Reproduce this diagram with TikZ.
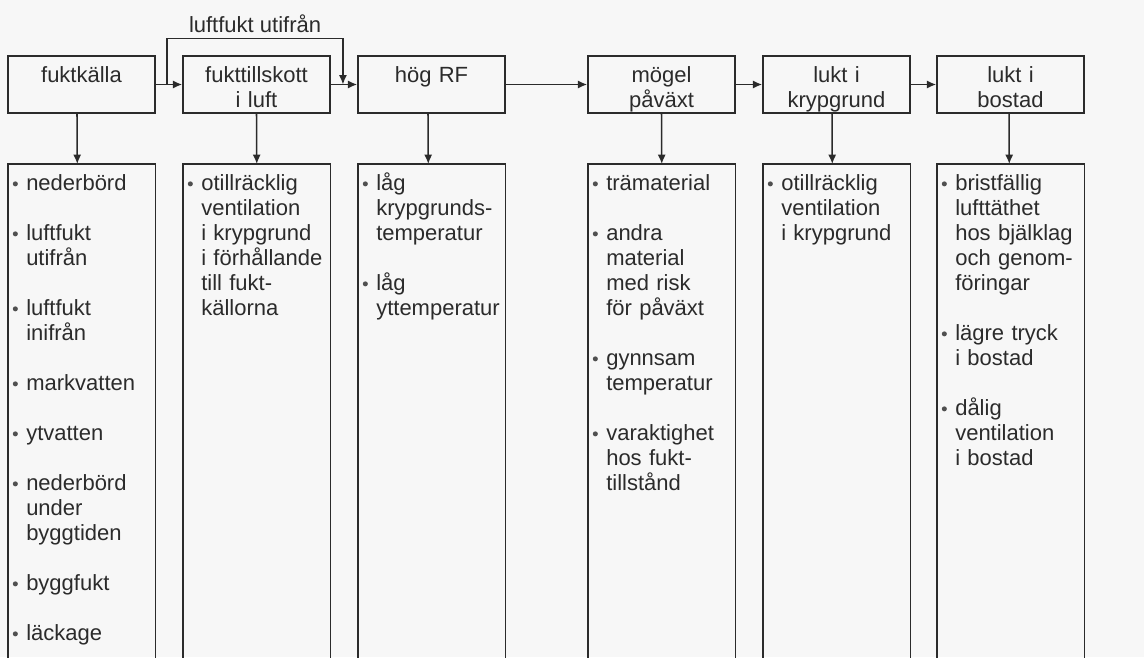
\documentclass[tikz,border=0pt]{standalone}
\usepackage{fontspec}
\setmainfont{Liberation Sans}
\usetikzlibrary{arrows.meta,calc}
\definecolor{ink}{HTML}{2B2B2B}
\definecolor{bulc}{HTML}{505050}
\definecolor{bg}{HTML}{F7F7F7}
\newcommand\diagfont{\fontsize{16.5}{18.75}\selectfont}
\newcommand\bul{\leavevmode\llap{\tikz[baseline=0pt]\fill[bulc] (0pt,4.6pt) circle[radius=1.9pt];\hspace{6.3pt}}}
\newcommand\gap{\\[18.75pt]}
\tikzset{
  line/.style={draw=ink, line width=1.15pt},
  conn/.style={line, -{Latex[length=7pt,width=6pt]}},
  topbox/.style={line, rectangle, minimum width=110.25pt, minimum height=42.75pt,
    inner xsep=0pt, inner ysep=0pt, text width=104pt, align=center,
    text height=18.25pt, text depth=22pt, font=\diagfont, text=ink},
  frame/.style={rectangle, anchor=north west, minimum width=110.25pt,
    minimum height=369.75pt, inner sep=0pt},
  list/.style={anchor=base west, text width=96pt, align=left, inner sep=0pt,
    font=\diagfont, text=ink},
  lbl/.style={anchor=base, inner sep=0pt, font=\diagfont, text=ink}
}
\begin{document}
\begin{tikzpicture}[x=0.75pt,y=-0.75pt]
\useasboundingbox (0,0) rectangle (1144,657);
\fill[bg] (0,0) rectangle (1144,657);

% top row
\node[topbox] (B1) at (81.5,84.5) {fuktkälla};
\node[topbox] (B2) at (256.5,84.5) {fukttillskott\\i luft};
\node[topbox] (B3) at (431.5,84.5) {hög RF};
\node[topbox] (B4) at (661.5,84.5) {mögel\\påväxt};
\node[topbox] (B5) at (836.5,84.5) {lukt i\\krypgrund};
\node[topbox] (B6) at (1010.5,84.5) {lukt i\\bostad};

% horizontal connectors
\draw[conn] (B1) -- (B2);
\draw[conn] (B2) -- (B3);
\draw[conn] (B3) -- (B4);
\draw[conn] (B4) -- (B5);
\draw[conn] (B5) -- (B6);

% feedback "luftfukt utifrån"
\coordinate (fa) at ($(B1.east)!0.43!(B2.west)$);
\coordinate (fb) at ($(B2.east)!0.46!(B3.west)$);
\coordinate (ft) at ($(fa)+(0,-46)$);
\draw[conn] (fa) -- (ft) -| (fb);
\node[lbl] (lab) at ($(ft)!0.5!(fb|-ft)+(0,-6.5)$) {luftfukt utifrån};

% lower frames (open at the bottom)
\foreach \i/\x in {1/8,2/183,3/358,4/588,5/763,6/937}{
  \node[frame] (L\i) at (\x,164) {};
  \draw[line] (L\i.south west) -- (L\i.north west) -- (L\i.north east) -- (L\i.south east);
}

% down connectors
\foreach \i/\d in {1/-4.5,2/0,3/-3.5,4/0,5/-4.5,6/-1.5}{
  \draw[conn] ([xshift=\d*0.75pt]B\i.south) -- ([xshift=\d*0.75pt]L\i.north);
}

% lists
\node[list] (T1) at (26,190) {\bul nederbörd\gap
\bul luftfukt\\utifrån\gap
\bul luftfukt\\inifrån\gap
\bul markvatten\gap
\bul ytvatten\gap
\bul nederbörd\\under\\byggtiden\gap
\bul byggfukt\gap
\bul läckage};

\node[list] (T2) at (201,190) {\bul otillräcklig\\ventilation\\i krypgrund\\i förhållande\\till fukt-\\källorna};

\node[list] (T3) at (376,190) {\bul låg\\krypgrunds-\\temperatur\gap
\bul låg\\yttemperatur};

\node[list] (T4) at (606,190) {\bul trämaterial\gap
\bul andra\\material\\med risk\\för påväxt\gap
\bul gynnsam\\temperatur\gap
\bul varaktighet\\hos fukt-\\tillstånd};

\node[list] (T5) at (781,190) {\bul otillräcklig\\ventilation\\i krypgrund};

\node[list] (T6) at (955,190) {\bul bristfällig\\lufttäthet\\hos bjälklag\\och genom-\\föringar\gap
\bul lägre tryck\\i bostad\gap
\bul dålig\\ventilation\\i bostad};
\end{tikzpicture}
\end{document}
